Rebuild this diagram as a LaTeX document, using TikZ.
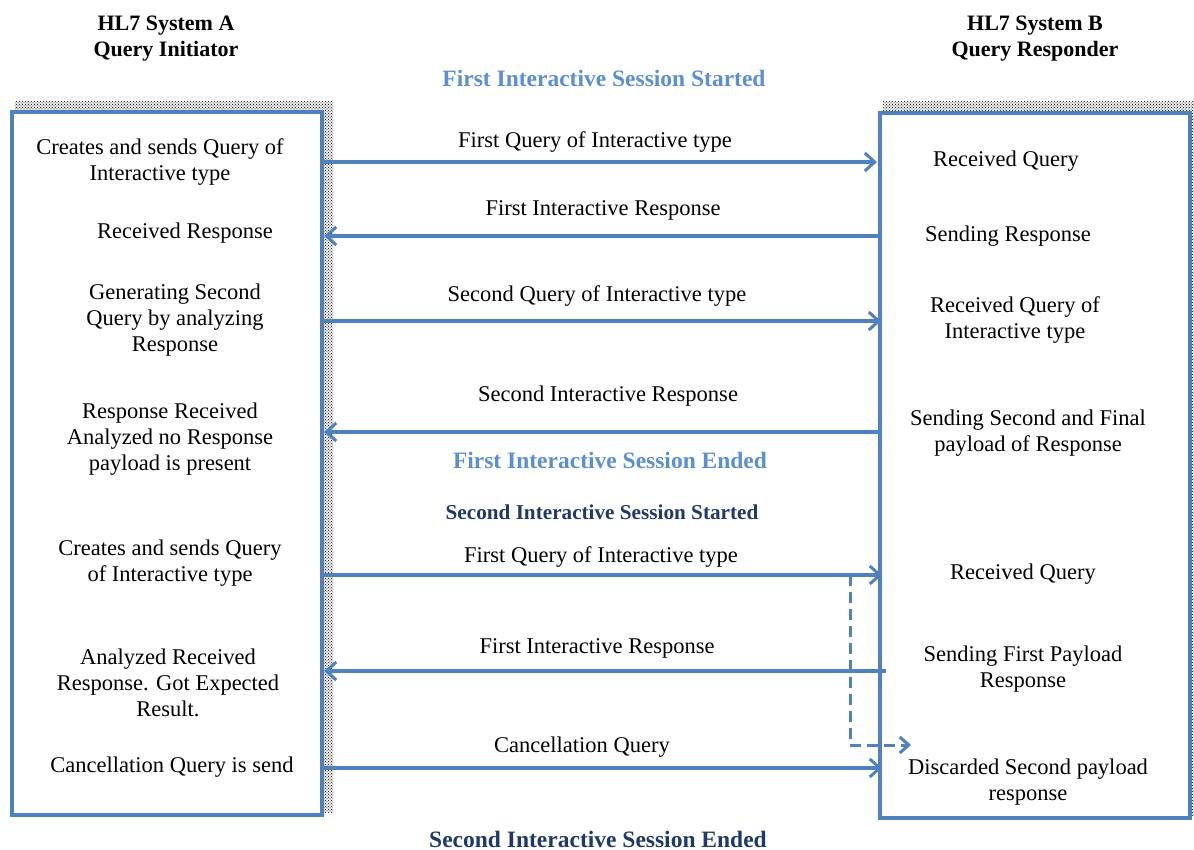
\documentclass[tikz,border=0pt]{standalone}
\usepackage{fontspec}
\setmainfont{Liberation Serif}
\usetikzlibrary{arrows.meta,patterns,calc}
\definecolor{lineblue}{HTML}{4F81BD}
\definecolor{lightblue}{HTML}{5B8FD0}
\definecolor{darkblue}{HTML}{1F3A66}
\begin{document}
\begin{tikzpicture}[x=1pt,y=-1pt,
  sysbox/.style={draw=lineblue,line width=4pt,fill=white,minimum width=310pt,inner sep=0pt},
  shadowbox/.style={pattern=crosshatch dots,pattern color=black,draw=none},
  msg/.style={lineblue,line width=3.5pt,-{Straight Barb[length=10pt,width=18pt,line width=3pt]}},
  txt/.style={font=\fontsize{22.5}{26}\selectfont,align=center,inner sep=0pt},
  head/.style={font=\fontsize{22}{26}\selectfont\bfseries,align=center,inner sep=0pt},
  session/.style={font=\fontsize{23.5}{26}\selectfont\bfseries,inner sep=0pt},
  lbl/.style={font=\fontsize{22.5}{26}\selectfont,inner sep=0pt}]
\useasboundingbox (0,0) rectangle (1194,850);

% dotted drop shadows behind the two system boxes
\fill[gray!15] (15,102) rectangle (333,812);
\fill[shadowbox] (15,102) rectangle (333,812);
\fill[gray!15] (883,102) rectangle (1194,815);
\fill[shadowbox] (883,102) rectangle (1194,815);

% system boxes
\node[sysbox,minimum height=703pt] (A) at (167,463.5) {};
\node[sysbox,minimum height=705pt] (B) at (1035,465.5) {};

% headers
\node[head] (hA) at (166,39) {HL7 System A\\Query Initiator};
\node[head] (hB) at (1035,39) {HL7 System B\\Query Responder};

% session markers
\node[session,text=lightblue] (s1) at (604,78) {First Interactive Session Started};
\node[session,text=lightblue] (s1e) at (610,460) {First Interactive Session Ended};
\node[session,text=darkblue,font=\fontsize{21.2}{24}\selectfont\bfseries] (s2) at (602,512) {Second Interactive Session Started};
\node[session,text=darkblue,font=\fontsize{23.5}{24}\selectfont\bfseries] (s2e) at (598,839) {Second Interactive Session Ended};

% system A actions
\node[txt] (a1) at (160,162) {Creates and sends Query of\\Interactive type};
\node[txt] (a2) at (185,233) {Received Response};
\node[txt] (a3) at (175,320) {Generating Second\\Query by analyzing\\Response};
\node[txt] (a4) at (170,439) {Response Received\\Analyzed no Response\\payload is present};
\node[txt] (a5) at (170,563) {Creates and sends Query\\of Interactive type};
\node[txt] (a6) at (168,683) {Analyzed Received\\Response. Got Expected\\Result.};
\node[txt] (a7) at (172,767) {Cancellation Query is send};

% system B actions
\node[txt] (b1) at (1006,161) {Received Query};
\node[txt] (b2) at (1008,236) {Sending Response};
\node[txt] (b3) at (1015,320) {Received Query of\\Interactive type};
\node[txt] (b4) at (1028,433) {Sending Second and Final\\payload of Response};
\node[txt] (b5) at (1023,574) {Received Query};
\node[txt] (b6) at (1023,669.5) {Sending First Payload\\Response};
\node[txt] (b7) at (1028,782) {Discarded Second payload\\response};

% message levels
\coordinate (m1) at (0,162);
\coordinate (m2) at (0,236);
\coordinate (m3) at (0,321);
\coordinate (m4) at (0,432);
\coordinate (m5) at (0,575);
\coordinate (m6) at (0,671);
\coordinate (m7) at (0,768);

% messages
\draw[msg] (A.east |- m1) -- ($(B.west |- m1)+(-1,0)$);
\draw[msg] ($(B.west |- m2)+(2,0)$) -- (A.east |- m2);
\draw[msg] (A.east |- m3) -- ($(B.west |- m3)+(3,0)$);
\draw[msg] (B.west |- m4) -- (A.east |- m4);
\draw[msg] (A.east |- m5) -- ($(B.west |- m5)+(4,0)$);
\draw[msg] ($(B.west |- m6)+(8,0)$) -- (A.east |- m6);
\draw[msg] (A.east |- m7) -- ($(B.west |- m7)+(4,0)$);

% message labels
\node[lbl] (l1) at (595,142) {First Query of Interactive type};
\node[lbl] (l2) at (603,210) {First Interactive Response};
\node[lbl] (l3) at (597,296) {Second Query of Interactive type};
\node[lbl] (l4) at (608,396) {Second Interactive Response};
\node[lbl] (l5) at (601,557) {First Query of Interactive type};
\node[lbl] (l6) at (597,648) {First Interactive Response};
\node[lbl] (l7) at (582,747) {Cancellation Query};

% discarded second payload
\coordinate (d0) at (850,575);
\coordinate (d1) at (850,745);
\coordinate (d2) at (911,745);
\draw[lineblue,line width=3pt,dash pattern=on 11pt off 6pt,-{Straight Barb[length=9pt,width=16pt,line width=3pt]}]
  (d0) -- (d1) -- (d2);
\end{tikzpicture}
\end{document}
